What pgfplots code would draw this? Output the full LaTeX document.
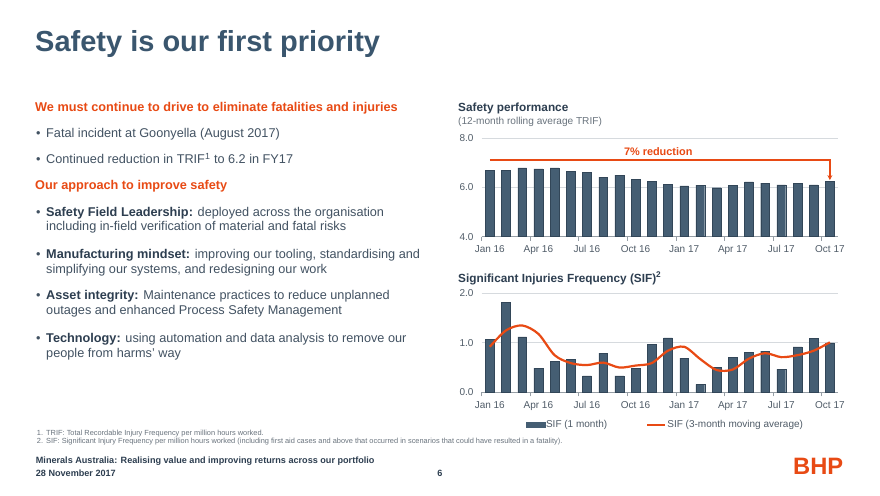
\documentclass[border=0pt]{standalone}
\usepackage{fontspec}
\setmainfont{Liberation Sans}
\usepackage{pgfplots}
\pgfplotsset{compat=1.18}
\usetikzlibrary{arrows.meta}

\definecolor{titlecol}{RGB}{58,86,110}
\definecolor{orangecol}{RGB}{232,74,20}
\definecolor{bodycol}{RGB}{66,82,98}
\definecolor{boldcol}{RGB}{45,62,80}
\definecolor{barcol}{RGB}{69,94,115}
\definecolor{baredge}{RGB}{50,70,88}
\definecolor{gridcol}{RGB}{214,218,222}
\definecolor{axiscol}{RGB}{150,158,165}
\definecolor{tickcol}{RGB}{80,92,104}
\definecolor{footcol}{RGB}{105,115,125}

\newcommand\body{\fontsize{12.7}{14}\selectfont}

\pgfplotsset{
  slide/.style={
    scale only axis, width=356.3pt, anchor=south west,
    xmin=-0.5, xmax=21.5,
    axis x line*=bottom, axis y line*=left,
    y axis line style={draw=none},
    x axis line style={draw=axiscol, line width=0.8pt},
    xtick={0,3,...,21},
    xticklabels={Jan 16,Apr 16,Jul 16,Oct 16,Jan 17,Apr 17,Jul 17,Oct 17},
    major tick length=0pt,
    extra x ticks={-0.5,2.5,5.5,8.5,11.5,14.5,17.5,20.5},
    extra x tick labels={},
    extra x tick style={major tick length=4pt, tick align=outside,
      tick style={draw=axiscol, line width=0.8pt}, grid=none},
    ymajorgrids, grid style={draw=gridcol, line width=0.8pt},
    tick label style={font=\fontsize{10}{12}\selectfont, text=tickcol},
    /pgf/number format/assume math mode=true,
    yticklabel style={/pgf/number format/.cd, fixed, fixed zerofill, precision=1,
      /tikz/.cd, inner sep=0pt, xshift=-8pt},
    xticklabel style={inner sep=0pt, anchor=base, yshift=-16pt},
  }
}

\begin{document}
\begin{tikzpicture}[x=1pt,y=1pt]
\useasboundingbox (0,0) rectangle (880,495);
\fill[white] (0,0) rectangle (880,495);

% slide title
\node[anchor=base west, inner sep=0, text=titlecol, font=\fontsize{29}{33}\selectfont\bfseries] at (35,443) {Safety is our first priority};

% left column
\begin{scope}[every node/.style={anchor=base west, inner sep=0, text=bodycol, font=\body}]
\node[text=orangecol, font=\body\bfseries] at (35,383.7) {We must continue to drive to eliminate fatalities and injuries};
\node at (36,357.3) {•}; \node at (46,357.3) {Fatal incident at Goonyella (August 2017)};
\node at (36,331) {•}; \node at (46,331) {Continued reduction in TRIF\textsuperscript{1} to 6.2 in FY17};
\node[text=orangecol, font=\body\bfseries] at (35,305) {Our approach to improve safety};
\node at (36,278.3) {•}; \node at (46,278.3) {\textcolor{boldcol}{\bfseries Safety Field Leadership:} deployed across the organisation};
\node at (46,264.3) {including in-field verification of material and fatal risks};
\node at (36,236.7) {•}; \node at (46,236.7) {\textcolor{boldcol}{\bfseries Manufacturing mindset:} improving our tooling, standardising and};
\node at (46,221.7) {simplifying our systems, and redesigning our work};
\node at (36,195) {•}; \node at (46,195) {\textcolor{boldcol}{\bfseries Asset integrity:} Maintenance practices to reduce unplanned};
\node at (46,180) {outages and enhanced Process Safety Management};
\node at (36,152.7) {•}; \node at (46,152.7) {\textcolor{boldcol}{\bfseries Technology:} using automation and data analysis to remove our};
\node at (46,137.7) {people from harms’ way};
\end{scope}

% chart titles
\node[anchor=base west, inner sep=0, text=boldcol, font=\fontsize{11.8}{14}\selectfont\bfseries] at (458,383) {Safety performance};
\node[anchor=base west, inner sep=0, text=footcol, font=\fontsize{10.1}{12}\selectfont] at (458,370.5) {(12-month rolling average TRIF)};
\node[anchor=base west, inner sep=0, text=boldcol, font=\fontsize{11.8}{14}\selectfont\bfseries] at (458,212.7) {Significant Injuries Frequency (SIF)\textsuperscript{2}};

% TRIF chart
\begin{axis}[slide, at={(481.7pt,258.3pt)}, height=98.4pt,
  ymin=4, ymax=8, ytick={4,6,8}]
\addplot[ybar, bar width=8.8pt, fill=barcol, draw=baredge, line width=0.4pt] coordinates {
(0,6.69) (1,6.69) (2,6.80) (3,6.76) (4,6.80) (5,6.65) (6,6.61) (7,6.42) (8,6.50) (9,6.33) (10,6.26)
(11,6.14) (12,6.07) (13,6.10) (14,5.99) (15,6.10) (16,6.23) (17,6.18) (18,6.11) (19,6.18) (20,6.11) (21,6.24)};
\draw[orangecol, line width=1.2pt, -{Stealth[length=5pt,width=5pt]}] (axis cs:0,7.12) -- (axis cs:21,7.12) -- (axis cs:21,6.30);
\node[text=orangecol, font=\fontsize{10.9}{13}\selectfont\bfseries] at (axis cs:10.4,7.46) {7\% reduction};
\end{axis}

% SIF chart
\begin{axis}[slide, at={(481.7pt,102.7pt)}, height=99pt,
  ymin=0, ymax=2, ytick={0,1,2},
  legend style={at={(0.514,-0.33)}, anchor=center, draw=none, fill=none,
    legend columns=2, font=\fontsize{10}{12}\selectfont, text=tickcol,
    nodes={inner sep=1pt},
    /tikz/every even column/.append style={column sep=38pt}}]
\addplot[ybar, bar width=8.8pt, fill=barcol, draw=baredge, line width=0.4pt,
  legend image code/.code={\fill[barcol] (0pt,-2.5pt) rectangle (19pt,2.5pt);}] coordinates {
(0,1.07) (1,1.82) (2,1.12) (3,0.49) (4,0.62) (5,0.66) (6,0.33) (7,0.79) (8,0.33) (9,0.48) (10,0.97)
(11,1.10) (12,0.69) (13,0.16) (14,0.50) (15,0.71) (16,0.81) (17,0.83) (18,0.47) (19,0.92) (20,1.09) (21,1.00)};
\addlegendentry{SIF (1 month)}
\addplot[smooth, draw=orangecol, line width=2.2pt, mark=none,
  legend image code/.code={\draw[orangecol, line width=2.2pt] (0pt,0pt) -- (18pt,0pt);}] coordinates {
(0,0.92) (1,1.25) (2,1.35) (3,1.18) (4,0.75) (5,0.59) (6,0.55) (7,0.60) (8,0.50) (9,0.54) (10,0.59)
(11,0.84) (12,0.92) (13,0.67) (14,0.45) (15,0.46) (16,0.68) (17,0.79) (18,0.71) (19,0.75) (20,0.84) (21,1.01)};
\addlegendentry{SIF (3-month moving average)}
\end{axis}

% footer
\begin{scope}[every node/.style={anchor=base west, inner sep=0}]
\node[text=footcol, font=\fontsize{7.4}{9}\selectfont] at (36.7,59.8) {1.};
\node[text=footcol, font=\fontsize{7.4}{9}\selectfont] at (46,59.8) {TRIF: Total Recordable Injury Frequency per million hours worked.};
\node[text=footcol, font=\fontsize{7.4}{9}\selectfont] at (36.7,51.8) {2.};
\node[text=footcol, font=\fontsize{7.4}{9}\selectfont] at (46,51.8) {SIF: Significant Injury Frequency per million hours worked (including first aid cases and above that occurred in scenarios that could have resulted in a fatality).};
\node[text=boldcol, font=\fontsize{9.1}{11}\selectfont\bfseries] at (35.7,31) {Minerals Australia: Realising value and improving returns across our portfolio};
\node[text=boldcol, font=\fontsize{9.1}{11}\selectfont\bfseries] at (35.7,18.4) {28 November 2017};
\node[text=boldcol, font=\fontsize{9.1}{11}\selectfont\bfseries, anchor=base] at (440,18.4) {6};
\node[text=orangecol, font=\fontsize{23.7}{26}\selectfont\bfseries] at (793,20) {BHP};
\end{scope}
\end{tikzpicture}
\end{document}
